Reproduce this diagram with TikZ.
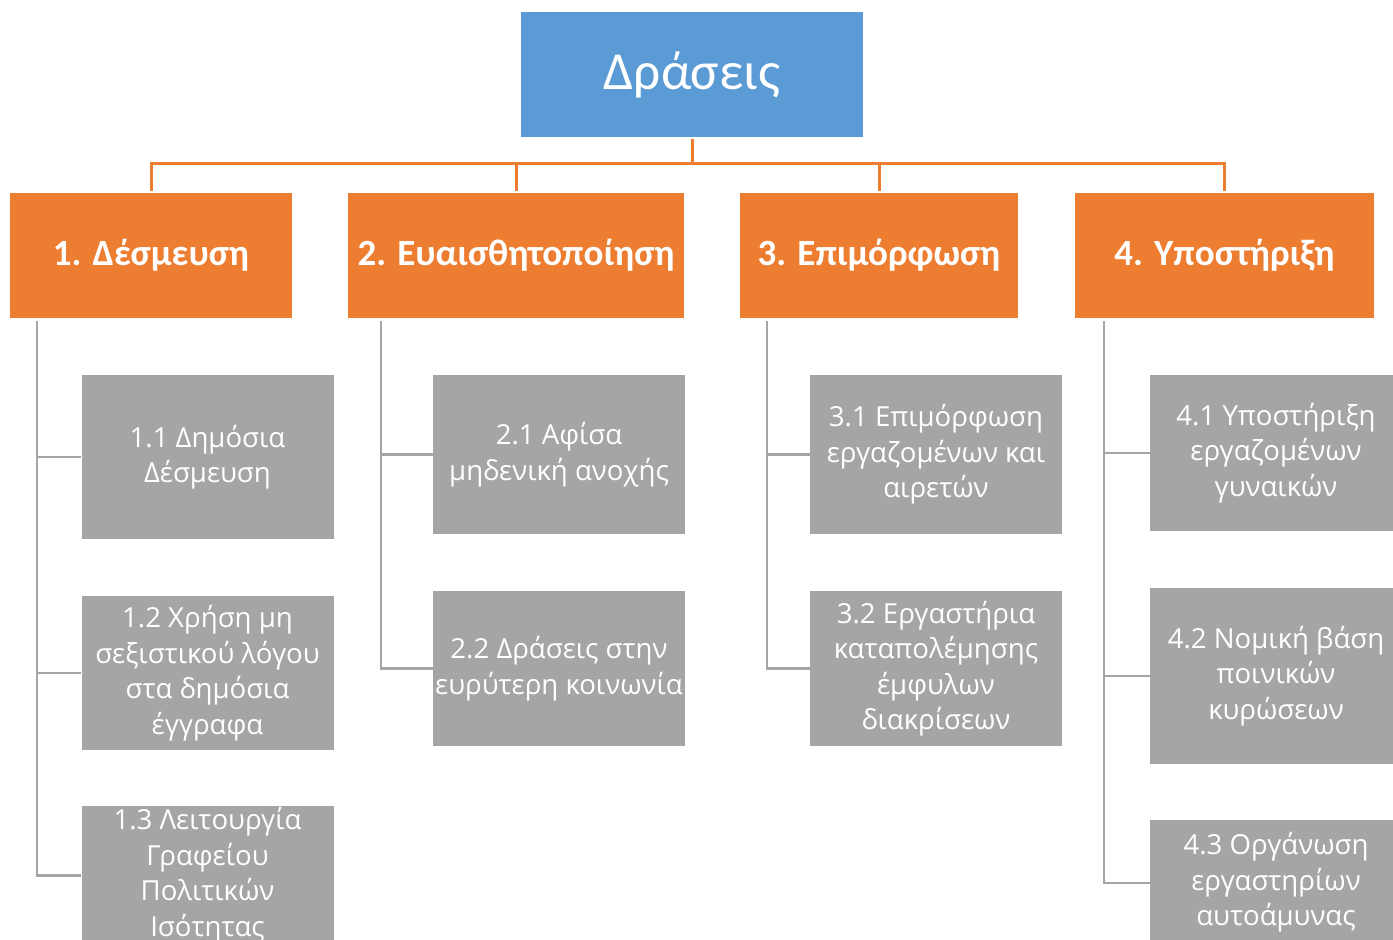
\documentclass[tikz,border=0pt]{standalone}
\usepackage{fontspec}
\setmainfont{Carlito}
\newfontfamily\graytext{Open Sans}
\usetikzlibrary{positioning}
\definecolor{cblue}{HTML}{5B9BD5}
\definecolor{corange}{HTML}{ED7D31}
\definecolor{cgray}{HTML}{A5A5A5}
\tikzset{
  topbox/.style={fill=cblue,text=white,minimum width=342pt,minimum height=125pt,inner sep=0pt,font=\fontsize{53.5}{60}\selectfont},
  obox/.style={fill=corange,text=white,minimum height=125pt,inner sep=0pt,font=\bfseries\fontsize{37}{44}\selectfont},
  gbox/.style={fill=cgray,text=white,minimum width=252pt,inner sep=0pt,align=center,font=\graytext\fontsize{27.6}{35.5}\selectfont},
  oline/.style={draw=corange,line width=3pt},
  gline/.style={draw=cgray,line width=2.6pt},
}
\begin{document}
\begin{tikzpicture}[x=1pt,y=-1pt]
\useasboundingbox (0,0) rectangle (1393,940);
\clip (0,0) rectangle (1393,940);
% top
\node[topbox] (top) at (692,74.5) {Δράσεις};
% orange level
\node[obox,minimum width=282pt] (o1) at (151,255.5) {1. Δέσμευση};
\node[obox,minimum width=336pt] (o2) at (516,255.5) {2. Ευαισθητοποίηση};
\node[obox,minimum width=278pt] (o3) at (879,255.5) {3. Επιμόρφωση};
\node[obox,minimum width=299pt] (o4) at (1224.5,255.5) {4. Υποστήριξη};
% bus
\coordinate (bus) at (692,163);
\draw[oline,shorten <=2pt] (top.south) -- (bus);
\draw[oline,shorten <=2pt,shorten >=2pt] (o1.north) -- (o1.north |- bus) -- (o4.north |- bus) -- (o4.north);
\draw[oline,shorten >=2pt] (o2.north |- bus) -- (o2.north);
\draw[oline,shorten >=2pt] (o3.north |- bus) -- (o3.north);
% gray boxes
\node[gbox,minimum height=164pt] (g11) at (207.5,457) {1.1 Δημόσια\\Δέσμευση};
\node[gbox,minimum height=154pt] (g12) at (207.5,673) {1.2 Χρήση μη\\σεξιστικού λόγου\\στα δημόσια\\έγγραφα};
\node[gbox,minimum height=138pt,anchor=north] (g13) at (207.5,806) {};
\node[gbox] at (g13.center) {1.3 Λειτουργία\\Γραφείου\\Πολιτικών\\Ισότητας};
\node[gbox,minimum height=159pt] (g21) at (559,454.5) {2.1 Αφίσα\\μηδενική ανοχής};
\node[gbox,minimum height=155pt] (g22) at (559,668.5) {2.2 Δράσεις στην\\ευρύτερη κοινωνία};
\node[gbox,minimum height=159pt] (g31) at (936,454.5) {3.1 Επιμόρφωση\\εργαζομένων και\\αιρετών};
\node[gbox,minimum height=155pt] (g32) at (936,668.5) {3.2 Εργαστήρια\\καταπολέμησης\\έμφυλων\\διακρίσεων};
\node[gbox,minimum height=156pt] (g41) at (1276,453) {4.1 Υποστήριξη\\εργαζομένων\\γυναικών};
\node[gbox,minimum height=176pt] (g42) at (1276,676) {4.2 Νομική βάση\\ποινικών\\κυρώσεων};
\node[gbox,minimum height=124pt,anchor=north] (g43) at (1276,820) {};
\node[gbox] at (g43.center) {4.3 Οργάνωση\\εργαστηρίων\\αυτοάμυνας};
% gray connectors
\coordinate (t1) at (37,321);
\coordinate (t2) at (381,321);
\coordinate (t3) at (767,321);
\coordinate (t4) at (1104,321);
\draw[gline] (t1) |- (g13.west);
\draw[gline] (t1 |- g11.west) -- (g11.west);
\draw[gline] (t1 |- g12.west) -- (g12.west);
\draw[gline] (t2) |- (g22.west);
\draw[gline] (t2 |- g21.west) -- (g21.west);
\draw[gline] (t3) |- (g32.west);
\draw[gline] (t3 |- g31.west) -- (g31.west);
\coordinate (b43) at (1104,883);
\draw[gline] (t4) -- (b43) -- (g43.west |- b43);
\draw[gline] (t4 |- g41.west) -- (g41.west);
\draw[gline] (t4 |- g42.west) -- (g42.west);
\end{tikzpicture}
\end{document}
